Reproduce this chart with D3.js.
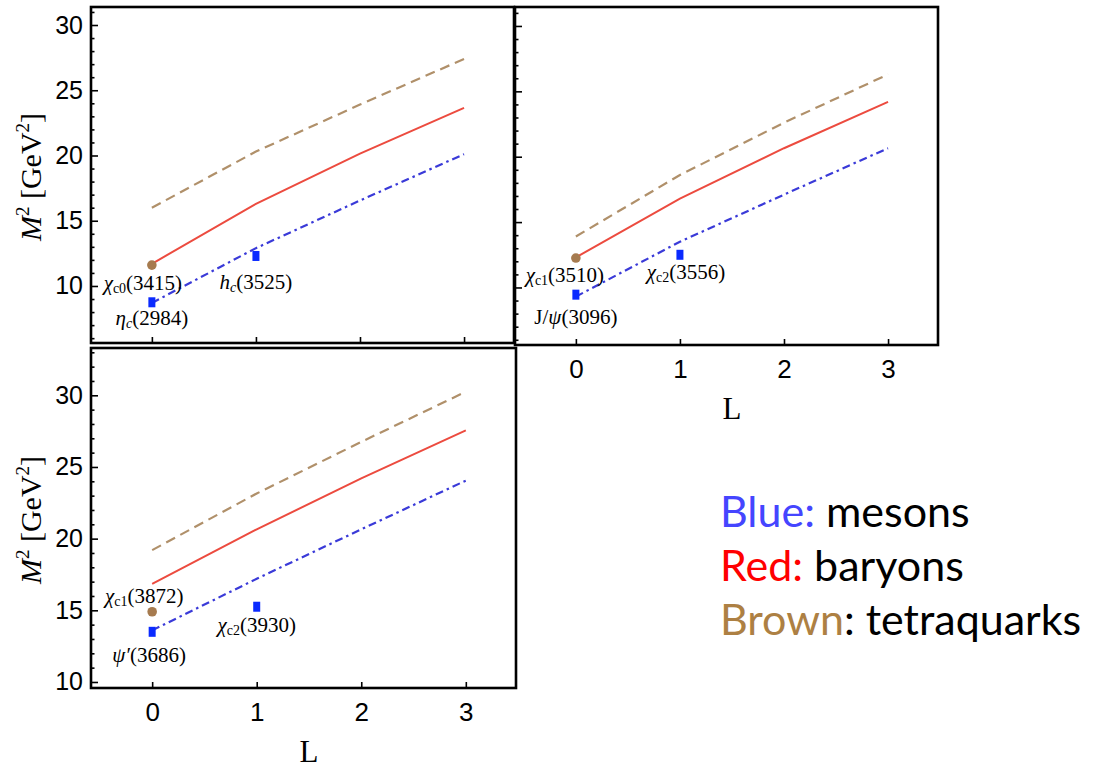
<!DOCTYPE html>
<html>
<head>
<meta charset="utf-8">
<script src="https://cdn.jsdelivr.net/npm/d3@7.9.0/dist/d3.min.js"></script>
<style>
  body { margin: 0; background: #fff; }
  .tick text { font-family: "Liberation Sans", Arial, sans-serif; fill: #000; }
</style>
</head>
<body>
<svg id="chart" width="1099" height="768"></svg>
<script>
// orbital angular momentum values
const L = [0, 1, 2, 3];

// top-left panel: M^2 [GeV^2]
const aTetraquark = [16.0, 20.3, 23.9, 27.4];
const aBaryon = [11.7, 16.3, 20.15, 23.65];
const aMeson = [8.7, 12.9, 16.55, 20.1];
const aStateL = [0, 0, 1];
const aStateM2 = [11.6, 8.75, 12.3];
const aStateKind = ['tetra', 'meson', 'meson'];
const aStateName = [['χ', 'c0', '(3415)'], ['η', 'c', '(2984)'], ['h', 'c', '(3525)']];

// top-right panel
const bTetraquark = [13.9, 18.6, 22.6, 26.3];
const bBaryon = [12.3, 16.8, 20.65, 24.2];
const bMeson = [9.3, 13.5, 17.1, 20.65];
const bStateL = [0, 0, 1];
const bStateM2 = [12.25, 9.45, 12.5];
const bStateKind = ['tetra', 'meson', 'meson'];
const bStateName = [['χ', 'c1', '(3510)'], ['J/ψ', '', '(3096)'], ['χ', 'c2', '(3556)']];

// bottom-left panel
const cTetraquark = [19.2, 23.15, 26.75, 30.25];
const cBaryon = [16.85, 20.65, 24.2, 27.55];
const cMeson = [13.6, 17.2, 20.65, 24.05];
const cStateL = [0, 0, 1];
const cStateM2 = [14.9, 13.5, 15.25];
const cStateKind = ['tetra', 'meson', 'meson'];
const cStateName = [['χ', 'c1', '(3872)'], ['ψ′', '', '(3686)'], ['χ', 'c2', '(3930)']];

const yTickValues = [10, 15, 20, 25, 30];
const legendRows = [['Blue:', ' mesons'], ['Red:', ' baryons'], ['Brown', ': tetraquarks']];

// colours
const colTetra = '#b0906a';
const colBaryon = '#ec4b3f';
const colMeson = '#3a3ad8';
const colDot = '#a67b4f';
const colSquare = '#0a2aff';
const legendColors = ['#4545ff', '#ff0000', '#ad8043'];

const svg = d3.select('#chart');

// layout of each panel (frame box, y domain, label offsets)
const panels = [
  { x0: 91, x1: 514, y0: 7, y1: 343, yDom: [5.63, 31.38], yLabels: true, xLabels: false,
    series: [aTetraquark, aBaryon, aMeson], stL: aStateL, stM: aStateM2, stK: aStateKind, stN: aStateName,
    offs: [[-9, 25], [0, 23], [0, 33]] },
  { x0: 515, x1: 938, y0: 7, y1: 345, yDom: [5.6, 31.45], yLabels: false, xLabels: true,
    series: [bTetraquark, bBaryon, bMeson], stL: bStateL, stM: bStateM2, stK: bStateKind, stN: bStateName,
    offs: [[-11, 24], [0, 29], [6, 24]] },
  { x0: 91, x1: 516, y0: 348, y1: 688, yDom: [9.58, 33.3], yLabels: true, xLabels: true,
    series: [cTetraquark, cBaryon, cMeson], stL: cStateL, stM: cStateM2, stK: cStateKind, stN: cStateName,
    offs: [[-8, -9], [-3, 30], [0, 25]] }
];

const styles = [
  { color: colTetra, dash: '10,6', width: 2.2 },
  { color: colBaryon, dash: null, width: 2 },
  { color: colMeson, dash: '8,4,2.5,4', width: 2.2 }
];

panels.forEach(p => {
  const x = d3.scaleLinear().domain([-0.585, 3.48]).range([p.x0, p.x1]);
  const y = d3.scaleLinear().domain(p.yDom).range([p.y1, p.y0]);
  const g = svg.append('g');

  // curves
  const line = d3.line().x((d, i) => x(L[i])).y(d => y(d));
  p.series.forEach((s, i) => {
    g.append('path')
      .attr('d', line(s))
      .attr('fill', 'none')
      .attr('stroke', styles[i].color)
      .attr('stroke-width', styles[i].width)
      .attr('stroke-dasharray', styles[i].dash);
  });

  // experimental states
  p.stL.forEach((l, i) => {
    const cx = x(l), cy = y(p.stM[i]);
    if (p.stK[i] === 'tetra') {
      g.append('circle').attr('cx', cx).attr('cy', cy).attr('r', 4.8).attr('fill', colDot);
    } else {
      g.append('rect').attr('x', cx - 3.5).attr('y', cy - 5).attr('width', 7).attr('height', 10).attr('fill', colSquare);
    }
    const [main, sub, mass] = p.stN[i];
    const t = g.append('text')
      .attr('x', cx + p.offs[i][0]).attr('y', cy + p.offs[i][1])
      .attr('text-anchor', 'middle')
      .attr('font-family', '"Liberation Serif", "Times New Roman", serif')
      .attr('font-size', 21);
    if (main.startsWith('J/')) {
      t.append('tspan').text('J/');
      t.append('tspan').attr('font-style', 'italic').text(main.slice(2));
    } else {
      t.append('tspan').attr('font-style', 'italic').text(main);
    }
    if (sub) {
      t.append('tspan').attr('font-size', 14).attr('dy', 3)
        .attr('font-style', sub === 'c' ? 'italic' : 'normal').text(sub);
      t.append('tspan').attr('dy', -3).text(mass);
    } else {
      t.append('tspan').text(mass);
    }
  });

  // left axis: inward major + minor ticks
  const minor = d3.range(Math.ceil(p.yDom[0]), Math.floor(p.yDom[1]) + 1).filter(v => v % 5 !== 0);
  g.append('g').attr('transform', `translate(${p.x0},0)`)
    .call(d3.axisLeft(y).tickValues(minor).tickSize(-3.5).tickFormat(''))
    .call(a => a.select('.domain').remove())
    .call(a => a.selectAll('line').attr('stroke-width', 1.6));
  g.append('g').attr('transform', `translate(${p.x0},0)`)
    .call(d3.axisLeft(y).tickValues(yTickValues).tickSize(-7).tickPadding(8)
      .tickFormat(p.yLabels ? d3.format('d') : ''))
    .call(a => a.select('.domain').remove())
    .call(a => a.selectAll('line').attr('stroke-width', 1.6))
    .call(a => a.selectAll('text').attr('font-size', 25));

  // bottom axis
  g.append('g').attr('transform', `translate(0,${p.y1})`)
    .call(d3.axisBottom(x).tickValues(L).tickSize(-6).tickPadding(15)
      .tickFormat(p.xLabels ? d3.format('d') : ''))
    .call(a => a.select('.domain').remove())
    .call(a => a.selectAll('line').attr('stroke-width', 1.6))
    .call(a => a.selectAll('text').attr('font-size', 26));

  // frame
  g.append('rect')
    .attr('x', p.x0).attr('y', p.y0)
    .attr('width', p.x1 - p.x0).attr('height', p.y1 - p.y0)
    .attr('fill', 'none').attr('stroke', '#000').attr('stroke-width', 2.6);

  // y title
  if (p.yLabels) {
    const cy = (p.y0 + p.y1) / 2 + 2;
    const t = g.append('text')
      .attr('transform', `translate(41,${cy}) rotate(-90)`)
      .attr('text-anchor', 'middle')
      .attr('font-family', '"Liberation Serif", "Times New Roman", serif')
      .attr('font-size', 30);
    t.append('tspan').attr('font-style', 'italic').text('M');
    t.append('tspan').attr('font-size', 19).attr('dy', -12).text('2');
    t.append('tspan').attr('dy', 12).text(' [GeV');
    t.append('tspan').attr('font-size', 19).attr('dy', -12).text('2');
    t.append('tspan').attr('dy', 12).text(']');
  }

  // x title
  if (p.xLabels) {
    g.append('text')
      .attr('x', (x(1) + x(2)) / 2).attr('y', p.y1 + 74)
      .attr('text-anchor', 'middle')
      .attr('font-family', '"Liberation Serif", "Times New Roman", serif')
      .attr('font-size', 31)
      .text('L');
  }
});

// legend
legendRows.forEach((r, i) => {
  const t = svg.append('text')
    .attr('x', 720).attr('y', 527 + i * 54)
    .attr('font-family', 'Lato, "Open Sans", sans-serif')
    .attr('font-size', 43);
  t.append('tspan').attr('fill', legendColors[i]).text(r[0]);
  t.append('tspan').attr('fill', '#000').text(r[1]);
});
</script>
</body>
</html>
